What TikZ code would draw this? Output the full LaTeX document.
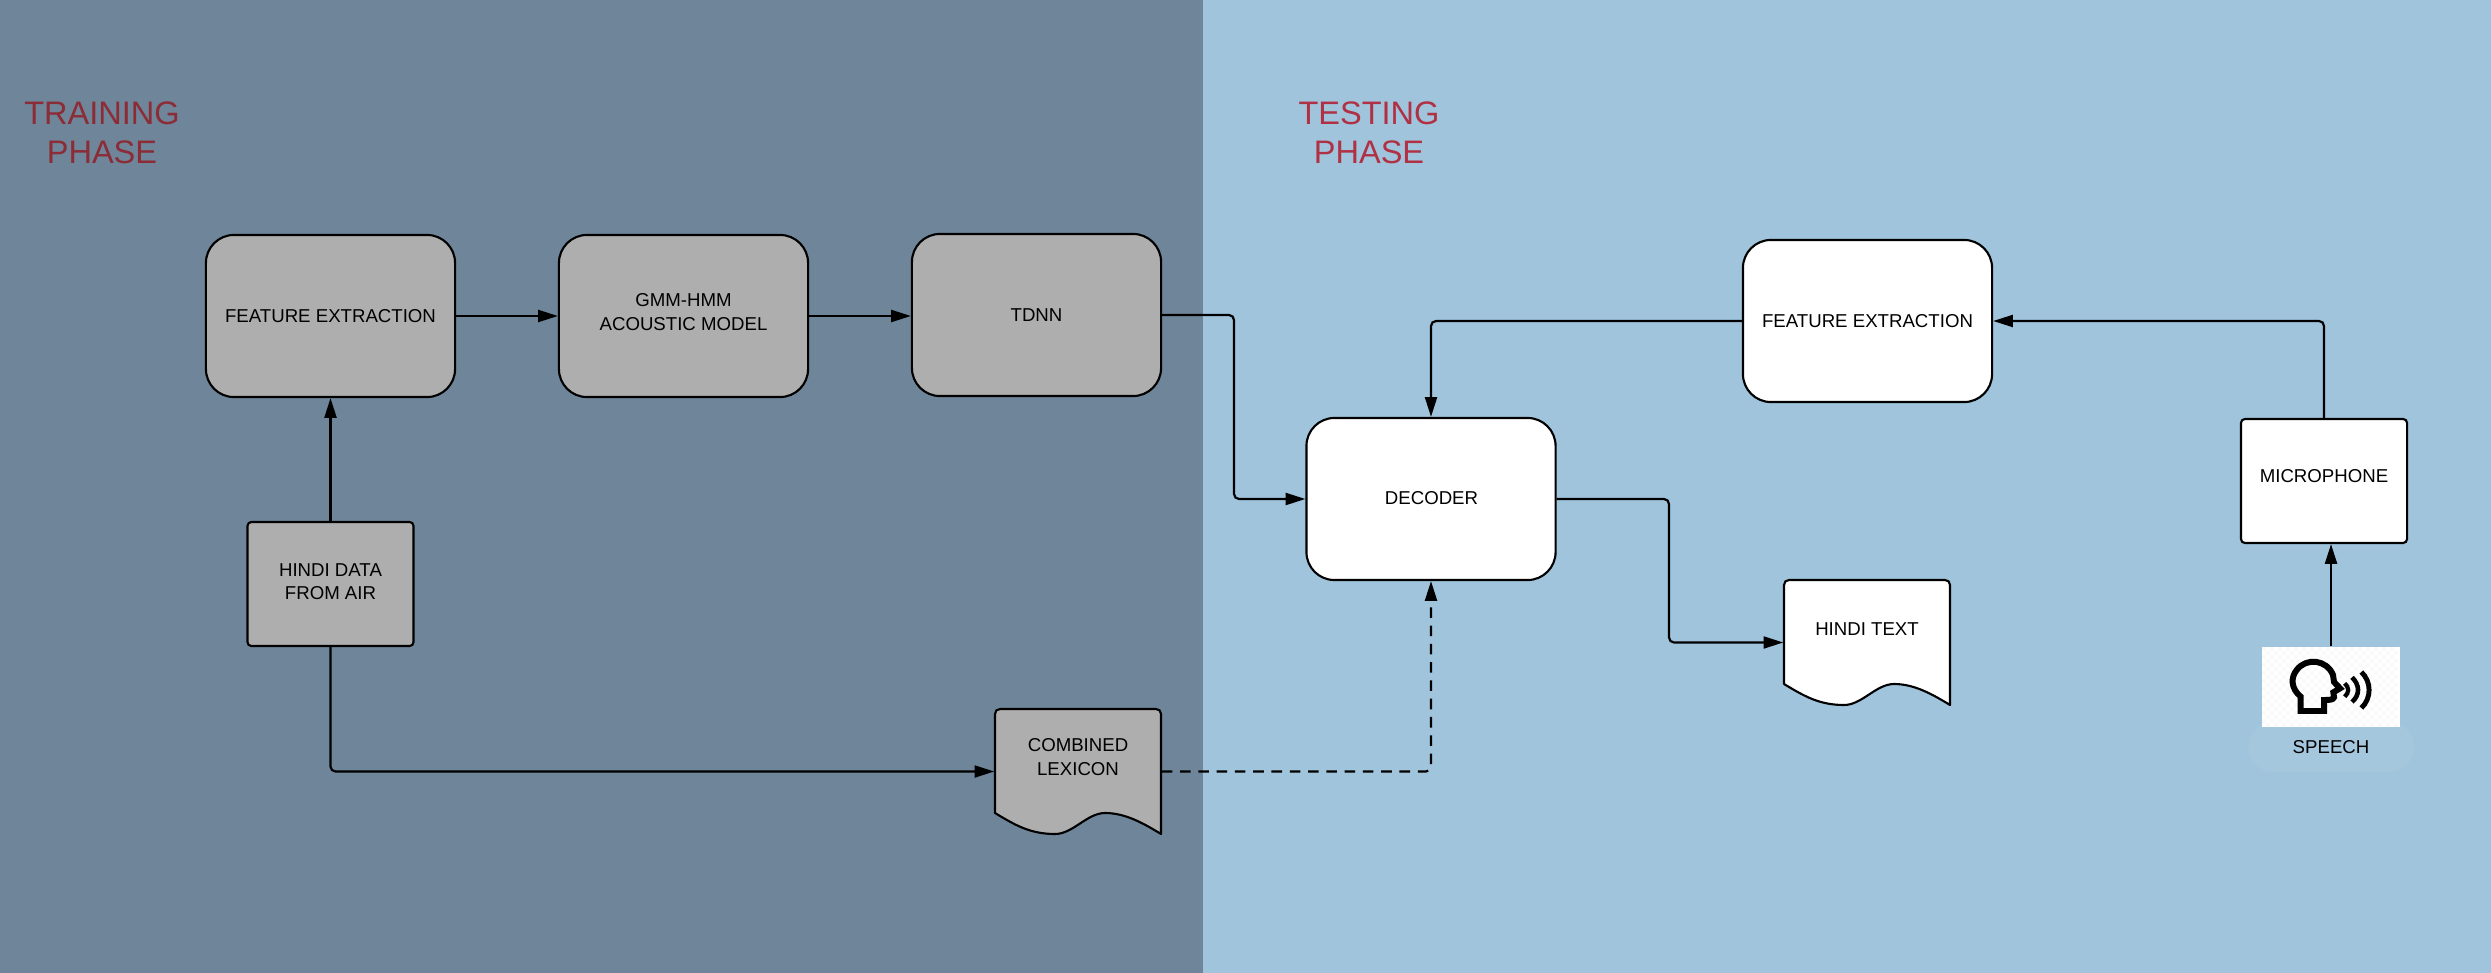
\documentclass[tikz,border=0pt]{standalone}
\usepackage{fontspec}
\setmainfont{Liberation Sans}
\usetikzlibrary{arrows.meta}
\definecolor{TrainBg}{RGB}{111,133,153}
\definecolor{TestBg}{RGB}{160,196,220}
\definecolor{CloudFill}{RGB}{165,199,222}
\definecolor{BoxGray}{RGB}{174,174,174}
\definecolor{TrainRed}{RGB}{139,44,54}
\definecolor{TestRed}{RGB}{176,48,68}
\tikzset{
  % Rounded process box
  procbox/.style={
    draw=black,
    line width=0.6pt,
    rounded corners=0.28cm,
    minimum width=2.49cm,
    minimum height=1.62cm,
    inner sep=0pt,
    align=center,
    font=\fontsize{5.3}{6.6}\selectfont
  },
  % Square-ish box
  smallbox/.style={
    procbox,
    rounded corners=0.04cm,
    minimum width=1.66cm,
    minimum height=1.24cm
  },
  % Invisible anchor box of a document shape
  docbox/.style={
    minimum width=1.66cm,
    minimum height=1.25cm,
    inner sep=0pt
  },
  % Text alone
  boxtext/.style={
    inner sep=0pt,
    align=center,
    font=\fontsize{5.3}{6.6}\selectfont
  },
  % Phase title
  phase/.style={
    inner sep=0pt,
    align=center,
    font=\fontsize{9.25}{11}\selectfont
  },
  % Connector
  conn/.style={
    draw=black,
    line width=0.62pt,
    rounded corners=0.05cm,
    -{Stealth[inset=0pt,length=5.6pt,width=3.4pt]}
  },
  % Document outline
  docline/.style={
    draw=black,
    line width=0.6pt,
    line join=round
  }
}
% document shape with a wavy foot: #1 top left corner, #2 fill
\newcommand{\docshape}[2]{
  \draw[docline,fill=#2,shift={#1}] (0,5) .. controls (0,2) and (2,0) .. (5,0) -- (161,0)
    .. controls (164,0) and (166,2) .. (166,5) -- (166,125)
    .. controls (148,114) and (130,104) .. (110,104)
    .. controls (92,104) and (78,125) .. (60,125)
    .. controls (35,125) and (20,116) .. (0,104) -- cycle;
}
\begin{document}
\begin{tikzpicture}[x=0.01cm,y=-0.01cm]
  \useasboundingbox (0,0) rectangle (2491,973);
  % Backgrounds
  \fill[TrainBg] (0,0) rectangle (1203,973);
  \fill[TestBg] (1203,0) rectangle (2491,973);

  % Titles
  \node[phase,text=TrainRed] (traintitle) at (102,133) {TRAINING\\PHASE};
  \node[phase,text=TestRed] (testtitle) at (1369,133) {TESTING\\PHASE};

  % Training side
  \node[procbox,fill=BoxGray] (fetrain) at (330.5,316) {FEATURE EXTRACTION};
  \node[procbox,fill=BoxGray] (gmm) at (683.5,316) {};
  \node[boxtext] (gmmtext) at (683.5,312) {GMM-HMM\\ACOUSTIC MODEL};
  \node[procbox,fill=BoxGray] (tdnn) at (1036.5,315) {TDNN};
  \node[smallbox,fill=BoxGray] (hindidata) at (330.5,584) {};
  \node[boxtext] (hindidatatext) at (330.5,582) {HINDI DATA\\FROM AIR};
  \docshape{(995,709)}{BoxGray}
  \node[docbox] (lexicon) at (1078,771.5) {};
  \node[boxtext] (lexicontext) at (1078,757) {COMBINED\\LEXICON};

  % Testing side
  \node[procbox,fill=white] (decoder) at (1431,499) {};
  \node[boxtext] (decodertext) at (1431.5,498) {DECODER};
  \node[procbox,fill=white] (fetest) at (1867.5,321) {FEATURE EXTRACTION};
  \node[smallbox,fill=white] (mic) at (2324,481) {};
  \node[boxtext] (mictext) at (2324,476) {MICROPHONE};
  \docshape{(1784,580)}{white}
  \node[docbox] (hinditext) at (1867,642.5) {};
  \node[boxtext] (hinditextlabel) at (1867,629) {HINDI TEXT};

  % Speech icon and caption
  \node[fill=CloudFill,rounded corners=0.24cm,minimum width=1.65cm,minimum height=0.5cm,inner sep=0pt] (cloud) at (2331,747) {};
  \node[boxtext] (speechtext) at (2331,747.5) {SPEECH};
  \node[fill=white,minimum width=1.38cm,minimum height=0.8cm,inner sep=0pt] (speech) at (2331,687) {};
  \begin{scope}[shift={(2150,600)},x=0.01cm/3,y=-0.01cm/3]
    \foreach \i in {0,...,33} {
      \foreach \j in {0,...,19} {
        \pgfmathtruncatemacro{\k}{mod(\i+\j,2)}
        \ifnum\k=0 \fill[black!2] ({336+12*\i},{141+12*\j}) rectangle ++(12,12); \fi
      }
    }
    \draw[line width=1.7pt,line join=miter] (452,333) -- (452,290)
      .. controls (422,265) and (422,232) .. (440,210)
      .. controls (468,172) and (530,178) .. (549,225)
      -- (552,246) -- (570,265) -- (550,277) -- (552,292)
      .. controls (550,300) and (535,300) .. (522,300) -- (522,333) -- cycle;
    \draw[line width=1.2pt] (584,250) .. controls (598,262) and (598,278) .. (584,290);
    \draw[line width=1.3pt] (606,232) .. controls (630,255) and (630,285) .. (606,306);
    \draw[line width=1.4pt] (634,216) .. controls (665,245) and (665,295) .. (634,324);
  \end{scope}

  % Connectors
  \draw[conn] (fetrain) -- (gmm);
  \draw[conn] (gmm) -- (tdnn.west |- gmm);
  \draw[conn] (tdnn.east) -- (1234,315) -- (1234,499) -- (decoder.west);
  \draw[conn] (hindidata) -- (fetrain);
  \draw[conn] (hindidata.south) -- (330.5,771.5) -- (lexicon.west);
  \draw[conn,dash pattern=on 3pt off 2.2pt] (lexicon.east) -- (decoder.south |- lexicon.east) -- (decoder.south);
  \draw[conn] (fetest.west) -- (decoder.north |- fetest.west) -- (decoder.north);
  \draw[conn] (mic.north) -- (mic.north |- fetest.east) -- (fetest.east);
  \draw[conn] (speech.north) -- (speech.north |- mic.south);
  \draw[conn] (decoder.east) -- (1669,499) -- (1669,642.5) -- (hinditext.west);
\end{tikzpicture}
\end{document}
